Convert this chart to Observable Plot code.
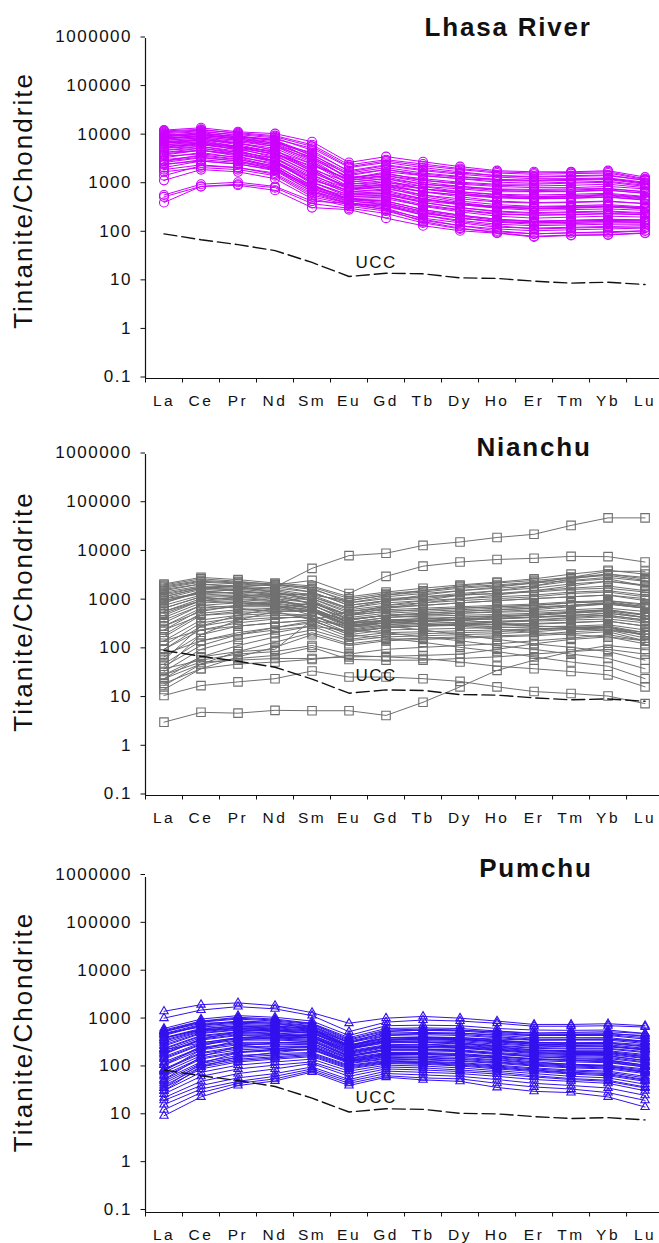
<!DOCTYPE html>
<html>
<head>
<meta charset="utf-8">
<script src="https://cdn.jsdelivr.net/npm/d3@7"></script>
<script src="https://cdn.jsdelivr.net/npm/@observablehq/plot@0.6"></script>
<style>
  html, body { margin: 0; padding: 0; background: #fff; }
  #chart svg { display: block; }
</style>
</head>
<body>
<div id="chart"></div>
<script>
// ---- data ----
const ree = ["La","Ce","Pr","Nd","Sm","Eu","Gd","Tb","Dy","Ho","Er","Tm","Yb","Lu"];
const yTicks = [0.1, 1, 10, 100, 1000, 10000, 100000, 1000000];
const ucc = [95, 72, 57, 43, 24.5, 12.6, 14.7, 14.3, 11.8, 11.5, 10.1, 9.2, 9.6, 8.6];

const lhasa = [
  [13000,14500,12000,11000,7500,2800,3700,2900,2300,1900,1800,1800,1900,1400],
  [12000,13000,11500,10000,6500,2500,3200,2600,2100,1800,1700,1750,1800,1300],
  [11000,12000,10500,9000,5000,1800,2400,1900,1600,1400,1300,1300,1350,1100],
  [10000,11500,9500,8000,4200,1500,2000,1500,1300,1100,1050,1100,1150,950],
  [9500,10500,9000,7000,3500,1300,1700,1200,1000,900,850,850,900,800],
  [9000,9500,8000,6000,2800,1200,1400,1000,850,750,700,700,750,650],
  [8500,10000,8500,6500,3000,1000,1200,800,650,550,500,520,550,480],
  [8000,9000,7000,5000,2200,900,1000,700,550,450,420,430,450,400],
  [7500,8500,6500,4500,1800,800,900,600,450,380,350,360,380,340],
  [7000,8000,6000,4000,1600,700,750,500,380,320,290,300,310,290],
  [6500,7500,5500,3500,1300,650,650,420,330,270,250,260,270,250],
  [6000,7000,5000,3000,1100,550,550,350,270,220,200,210,220,210],
  [5500,6500,5200,3800,1700,900,1100,900,800,700,700,720,760,650],
  [5000,6000,4800,3300,1400,700,800,600,500,430,410,420,440,400],
  [4500,5500,4200,2800,1100,600,600,420,330,280,260,270,280,260],
  [4000,5000,3800,2500,900,500,450,300,230,190,170,180,185,180],
  [3500,4500,3500,2300,800,450,380,230,170,140,120,125,130,130],
  [3000,4000,3300,2200,750,420,320,190,140,110,95,100,105,110],
  [2800,3500,3000,2000,700,400,300,170,125,100,85,90,92,100],
  [2500,3200,2800,2100,900,550,600,450,380,330,320,330,350,320],
  [2200,3000,2600,1900,700,450,400,280,220,180,170,175,180,175],
  [2000,2500,2200,1600,600,400,350,230,180,150,140,145,150,150],
  [1800,2200,2000,1500,550,380,300,200,160,130,125,130,135,140],
  [1200,2000,1800,1300,500,350,280,180,140,120,110,115,120,125],
  [550,900,1000,850,400,320,250,160,120,105,95,100,100,110],
  [420,900,950,750,330,300,200,140,110,98,82,88,90,98],
  [600,1000,1100,900,450,400,350,250,200,170,160,165,170,165],
  [10500,11000,9500,8500,5500,2200,2800,2200,1800,1500,1400,1450,1500,1200],
  [7000,7500,6000,4500,2000,1100,1300,1000,900,800,780,800,820,700],
  [6000,6500,5500,4200,2400,1300,1800,1500,1300,1200,1150,1200,1250,1000],
  [4500,5000,4000,3000,1200,750,900,700,600,550,550,560,600,520],
  [9000,10000,9000,7500,4000,1700,2200,1700,1450,1250,1200,1250,1300,1050],
  [3200,3800,3200,2400,950,500,550,380,300,250,230,240,250,240],
  [11500,12500,10000,8000,3200,1100,1300,900,700,600,560,580,620,540],
  [5500,6000,4500,3000,1000,480,420,270,200,165,150,155,160,160],
  [8000,9000,7500,6000,3300,1400,1600,1300,1100,1000,1000,1050,1100,900],
  [12500,13500,11000,9500,6000,2300,3000,2400,2000,1700,1600,1650,1700,1250],
  [10000,10500,8500,7000,4500,1900,2500,2000,1700,1500,1450,1500,1550,1200],
  [9500,11000,9500,8000,3800,1300,1500,1100,900,780,740,760,800,700],
  [8500,9500,8000,6500,3600,1600,2000,1600,1400,1250,1200,1250,1300,1050],
  [7500,8000,7000,5500,2600,1200,1500,1200,1050,950,920,950,1000,850],
  [6500,7000,6000,4800,2600,1000,1100,800,650,560,530,540,580,500],
  [5800,6800,5800,4200,1900,850,950,700,600,520,500,510,540,470],
  [5000,5500,4500,3500,1500,800,1000,800,700,620,600,620,650,560],
  [4200,5000,4200,3000,1300,650,700,500,400,340,320,330,350,320],
  [3800,4200,3600,2700,1100,600,650,480,400,350,340,350,360,330],
  [3000,3600,3000,2200,850,480,450,300,230,190,175,180,190,185],
  [2600,3000,2600,2000,800,480,500,360,290,240,230,235,245,235],
  [7000,8500,7000,5000,2000,800,850,550,420,340,310,320,340,310],
  [1500,2400,2200,1700,650,400,380,260,200,170,160,165,170,165]
];

const nianchu = [
  [900,1500,1700,1900,4600,8400,9400,13600,16000,19800,23000,35000,50000,50000],
  [1200,1800,2000,2100,2600,1400,3150,5100,6200,7000,7400,8100,8000,6200],
  [3.2,5.1,4.9,5.6,5.5,5.5,4.4,8.2,17,37,60,90,120,100],
  [11.3,18,21.5,25,36,27,27,25,22,17,13.6,12.4,11,7.7],
  [20,40,50,55,62,75,70,65,55,45,40,35,30,17],
  [25,50,65,75,110,62,60,60,65,70,80,90,100,80],
  [30,70,90,100,400,600,700,800,900,1000,1100,1200,1300,1100],
  [2200,3000,2700,2300,2000,1200,1500,1800,2100,2400,2800,3500,4200,3500],
  [2000,2600,2400,2200,1800,900,1200,1400,1600,1800,2000,2500,2800,2000],
  [1800,2400,2200,2000,1500,800,1000,1100,1300,1400,1600,1800,2000,1600],
  [1500,2000,1900,1700,1300,700,900,1000,1100,1200,1300,1500,1600,1300],
  [1200,1800,1700,1500,1100,600,750,800,900,1000,1100,1200,1300,1000],
  [1000,1500,1400,1300,1000,500,600,650,700,750,800,900,950,750],
  [800,1300,1300,1200,900,450,550,600,650,700,750,800,850,700],
  [600,1100,1100,1000,800,400,500,520,550,580,600,650,700,600],
  [450,900,950,900,700,350,450,480,500,520,550,600,650,500],
  [300,700,800,800,650,300,400,420,450,480,500,550,600,450],
  [200,550,650,700,600,280,350,380,400,420,450,480,500,400],
  [150,400,500,550,500,250,300,320,340,360,380,400,420,350],
  [100,300,400,450,450,220,280,300,310,320,330,350,380,300],
  [70,200,300,350,400,200,250,260,270,280,290,300,320,250],
  [50,150,220,280,350,180,220,230,240,250,260,280,300,220],
  [35,100,160,220,300,160,200,210,220,230,250,270,290,200],
  [25,70,120,180,250,150,180,190,200,210,230,260,280,190],
  [18,50,90,140,220,130,160,170,180,190,200,230,250,170],
  [15,40,70,110,200,120,150,160,170,180,190,210,230,150],
  [1700,2200,1900,1500,1000,400,500,450,400,350,300,280,260,200],
  [1400,1900,1600,1300,850,350,380,340,300,260,220,200,180,130],
  [900,1600,1400,1100,700,300,300,250,200,160,130,110,90,60],
  [700,1200,1000,800,500,250,220,180,150,120,100,80,65,40],
  [400,800,700,600,400,200,170,140,110,90,70,55,45,25],
  [60,300,500,700,900,500,700,900,1100,1300,1600,2000,2500,2000],
  [40,200,400,600,900,500,800,1000,1300,1600,2000,2800,3500,3000],
  [300,600,800,900,1200,700,1000,1300,1600,1900,2300,3000,4000,4000],
  [1100,1400,1500,1400,1300,1000,1300,1500,1800,2000,2300,2600,3000,2500],
  [500,1000,1200,1300,1400,900,1100,1200,1300,1400,1500,1700,1800,1500],
  [150,250,300,350,400,300,350,380,400,420,460,500,550,450],
  [80,150,200,250,300,240,280,300,320,330,340,360,380,300],
  [250,500,550,600,600,400,500,550,600,650,700,800,900,700],
  [40,60,80,90,120,80,100,110,120,130,150,170,200,150],
  [30,55,60,65,65,70,72,75,80,100,130,160,180,150],
  [2100,2800,2500,2100,1700,1000,1300,1600,2000,2300,2600,3000,3500,2800],
  [1900,2500,2300,2100,1900,1100,1400,1600,1900,2100,2400,2900,3300,2600],
  [1600,2200,2000,1800,1500,800,1000,1200,1400,1600,1800,2200,2500,2100],
  [1300,1900,1800,1600,1200,650,800,900,1000,1100,1200,1400,1500,1200],
  [1100,1700,1600,1400,1100,550,650,700,750,800,850,950,1000,800],
  [700,1200,1200,1100,900,500,600,650,700,750,800,900,1000,850],
  [550,1000,1050,950,800,420,500,550,600,650,700,800,900,750],
  [350,800,900,850,700,360,450,500,550,600,650,750,850,700],
  [250,650,750,750,650,330,400,430,460,490,520,580,650,520],
  [180,500,600,650,600,300,380,400,420,440,460,500,550,450],
  [120,350,450,500,500,260,320,340,360,380,400,430,470,380],
  [1000,1400,1200,1000,700,350,400,380,350,320,300,290,280,220],
  [600,1000,900,800,600,320,350,330,310,290,270,260,250,200],
  [100,250,350,420,500,280,350,380,420,460,500,560,620,500],
  [45,120,200,280,380,220,280,300,330,360,400,450,500,400]
];

const pumchu = [
  [1600,2200,2400,2100,1500,900,1150,1250,1150,1000,850,850,880,800],
  [1150,1700,2000,1800,1300,600,950,1050,1000,900,780,780,800,750],
  [700,1100,1300,1200,1000,500,800,820,800,700,650,640,650,550],
  [650,1000,1200,1100,900,450,700,720,700,620,560,560,560,480],
  [600,950,1100,1000,850,400,620,640,620,550,500,500,500,420],
  [550,850,1000,950,800,380,560,580,560,500,450,450,450,380],
  [500,800,900,850,750,350,500,520,500,450,400,400,400,340],
  [450,700,800,780,700,320,450,470,450,400,360,350,350,300],
  [400,650,750,720,650,300,420,430,410,370,330,320,320,270],
  [350,600,700,650,600,280,380,390,370,330,300,290,290,250],
  [300,550,650,600,560,260,350,360,340,300,270,260,260,220],
  [270,500,600,560,520,240,320,330,310,280,250,240,240,200],
  [240,450,550,520,480,220,300,300,290,260,230,220,220,180],
  [210,400,500,480,450,200,280,280,270,240,210,200,200,165],
  [180,350,450,440,420,190,260,260,250,220,200,190,185,150],
  [160,320,400,400,380,180,240,240,230,200,180,170,165,135],
  [140,280,360,360,350,170,220,220,210,185,165,155,150,120],
  [120,250,320,330,320,160,200,200,190,170,150,140,135,110],
  [100,220,290,300,300,150,190,185,175,155,135,125,120,100],
  [85,190,250,270,280,140,175,170,160,140,125,115,110,90],
  [70,160,220,240,250,130,160,155,145,130,115,105,100,80],
  [60,140,190,210,220,120,150,145,135,120,105,95,90,70],
  [50,120,160,180,200,110,140,135,125,110,95,85,80,60],
  [40,100,140,160,180,100,130,125,115,100,88,78,72,55],
  [35,85,120,140,160,90,120,115,105,92,80,70,65,48],
  [30,70,100,120,140,80,110,105,95,85,72,63,58,42],
  [22,45,65,80,110,60,90,85,80,70,60,55,50,35],
  [18,38,55,70,100,55,80,75,70,60,50,45,40,28],
  [14,32,50,62,92,50,72,65,62,50,42,38,32,22],
  [10.5,26,45,56,86,45,67,59,55,41,34,32,26,16],
  [550,750,850,800,700,350,600,650,640,600,560,580,600,550],
  [450,650,700,650,550,300,500,550,560,520,500,520,540,500],
  [250,350,450,450,450,250,400,450,450,420,400,410,420,380],
  [200,420,600,650,650,300,450,450,420,370,330,310,300,250],
  [90,250,400,450,450,220,300,300,280,250,220,200,190,150],
  [60,180,300,350,380,180,260,260,240,210,180,165,155,120],
  [40,130,220,260,300,150,210,200,190,165,140,125,115,85],
  [600,900,950,900,700,280,380,360,330,290,250,230,220,180],
  [120,300,450,500,500,260,400,420,410,380,350,350,360,320],
  [35,110,180,220,260,140,200,210,200,180,160,150,140,110],
  [620,980,1150,1050,880,420,650,680,650,580,520,520,520,450],
  [520,820,950,900,780,360,530,550,530,470,420,420,420,360],
  [430,680,780,750,680,310,440,450,430,390,350,340,340,290],
  [380,620,720,690,620,290,400,410,390,350,310,300,300,260],
  [320,570,670,620,580,270,360,370,350,310,280,270,270,230],
  [260,480,580,540,500,230,310,320,300,270,240,230,230,190],
  [220,420,520,500,460,210,290,290,280,250,220,210,210,170],
  [170,330,430,420,400,185,250,250,240,210,190,180,175,140],
  [130,270,340,350,340,165,210,210,200,180,160,150,145,115],
  [95,210,270,290,290,145,180,175,165,150,130,120,115,95],
  [75,170,230,250,260,135,165,160,150,135,120,110,105,85],
  [55,130,175,195,210,115,145,140,130,115,100,90,85,65],
  [45,110,150,170,190,105,135,130,120,105,92,82,76,58],
  [25,55,80,100,130,70,100,95,88,78,68,60,55,40]
];

const panels = [
  {samples: lhasa, color: "#cc00ff", symbol: "circle", r: 4.5, title: "Lhasa River", titleX: 9.3,
   ylabel: "Tintanite/Chondrite", height: 415, mt: 38, mb: 37, titleDy: -2.7, labelDy: -8, uccY: 24.4, tickDy: -1.5},
  {samples: nianchu, color: "#707070", symbol: "square", r: 4.8, title: "Nianchu", titleX: 10.0,
   ylabel: "Titanite/Chondrite", height: 415, mt: 39, mb: 35, titleDy: 1.7, labelDy: -13.5, uccY: 29, tickDy: -1.5},
  {samples: pumchu, color: "#3311ee", symbol: "triangle", r: 3.1, title: "Pumchu", titleX: 10.05,
   ylabel: "Titanite/Chondrite", height: 413, mt: 47, mb: 31, titleDy: -1, labelDy: -13, uccY: 25.6, tickDy: -3}
];

const font = "'Liberation Sans', Arial, Helvetica, sans-serif";
const uccRows = ucc.map((v, i) => ({i, v}));

function makePanel(p) {
  const rows = p.samples.flatMap((s, k) => s.map((v, i) => ({k, i, v})));
  const svg = Plot.plot({
    width: 659,
    height: p.height,
    marginTop: p.mt,
    marginBottom: p.mb,
    marginLeft: 145,
    marginRight: 0,
    style: {fontFamily: font, background: "#fff", color: "#111", overflow: "visible"},
    x: {type: "linear", domain: [-0.5, 13.39], axis: null, label: null},
    y: {type: "log", domain: [0.1, 1e6], axis: null, label: null},
    marks: [
      Plot.lineY(rows, {x: "i", y: "v", z: "k", stroke: p.color, strokeWidth: 1}),
      Plot.dot(rows, {x: "i", y: "v", symbol: p.symbol, r: p.r, stroke: p.color, fill: "none", strokeWidth: 1.1}),
      Plot.lineY(uccRows, {x: "i", y: "v", stroke: "#111", strokeWidth: 1.4, strokeDasharray: "13,5"}),
      Plot.text(["UCC"], {x: [5.176], y: [p.uccY], text: d => d, textAnchor: "start", fontSize: 17, fill: "#111"}),
      Plot.ruleX([-0.5], {stroke: "#111", strokeWidth: 1.2}),
      Plot.ruleY([0.1], {stroke: "#111", strokeWidth: 1.2}),
      Plot.axisY({ticks: yTicks, anchor: "left", label: null, tickSize: 4.5, tickPadding: 9, fontSize: 17, dy: p.tickDy,
        tickFormat: d => d < 1 ? "0.1" : String(d), stroke: "#111", fill: "#111"}),
      Plot.axisX({ticks: d3.range(-0.5, 13, 1), anchor: "bottom", label: null, tickSize: 4.5, tickFormat: () => "", stroke: "#111"}),
      Plot.axisX({ticks: d3.range(14), anchor: "bottom", label: null, tickSize: 0, tickPadding: 16, fontSize: 15.5,
        lineAnchor: "top", tickFormat: i => ree[i], fill: "#111"}),
      Plot.text([p.title], {x: [p.titleX], frameAnchor: "top", lineAnchor: "bottom", dy: p.titleDy,
        text: d => d, fontSize: 26, fontWeight: "bold", fill: "#111", textAnchor: "middle"}),
      Plot.text([p.ylabel], {frameAnchor: "left", dx: -122, dy: p.labelDy, rotate: -90, text: d => d,
        fontSize: 26, fill: "#111", textAnchor: "middle", lineAnchor: "middle"})
    ]
  });
  d3.select(svg).selectAll("text").each(function() {
    const t = this.textContent;
    if (t === p.title) this.style.letterSpacing = "1.8px";
    else if (t === p.ylabel) this.style.letterSpacing = "2px";
    else if (t === "UCC") this.style.letterSpacing = "1.5px";
    else if (ree.includes(t)) this.style.letterSpacing = "2.5px";
    else this.style.letterSpacing = "1.5px";
  });
  return svg;
}

const root = document.getElementById("chart");
for (const p of panels) root.appendChild(makePanel(p));
</script>
</body>
</html>
